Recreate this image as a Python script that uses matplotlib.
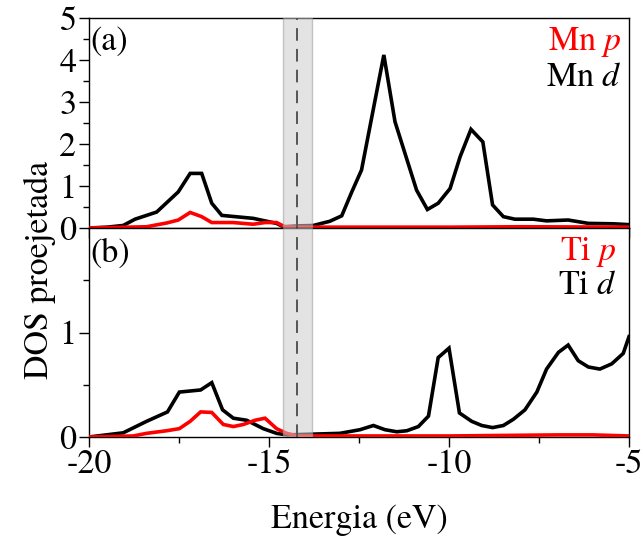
import matplotlib
matplotlib.use("Agg")
import matplotlib.pyplot as plt
from matplotlib.ticker import MultipleLocator, FixedLocator

plt.rcParams['font.family'] = ['TeX Gyre Termes', 'Liberation Serif', 'STIXGeneral', 'DejaVu Serif']
plt.rcParams['mathtext.fontset'] = 'custom'
plt.rcParams['mathtext.rm'] = 'TeX Gyre Termes'
plt.rcParams['mathtext.it'] = 'TeX Gyre Termes:italic'

# Panel (a): Mn
mn_d_e = [-20, -19.5, -19.05, -18.72, -18.12, -17.52, -17.19, -16.87, -16.59, -16.31, -15.44,
          -14.79, -14.6, -14.2, -13.77, -13.31, -12.98, -12.70, -12.43, -11.81, -11.50, -10.90,
          -10.60, -10.30, -9.97, -9.69, -9.39, -9.06, -8.79, -8.49, -8.17, -7.66, -7.29, -6.69,
          -6.13, -5.44, -5.0]
mn_d = [0.0, 0.02, 0.06, 0.21, 0.38, 0.86, 1.30, 1.30, 0.59, 0.30, 0.23,
        0.11, 0.03, 0.05, 0.06, 0.16, 0.29, 0.86, 1.38, 4.12, 2.53, 0.90,
        0.44, 0.59, 0.94, 1.70, 2.35, 2.05, 0.55, 0.27, 0.21, 0.21, 0.17, 0.19,
        0.11, 0.10, 0.08]
mn_p_e = [-20, -18.4, -17.84, -17.52, -17.19, -16.87, -16.59, -16.0, -15.44, -15.11, -14.79,
          -14.56, -14.2, -12.0, -10.0, -8.0, -5.0]
mn_p = [0.0, 0.03, 0.12, 0.19, 0.37, 0.27, 0.13, 0.13, 0.09, 0.13, 0.13,
        0.03, 0.02, 0.02, 0.02, 0.03, 0.02]

# Panel (b): Ti
ti_d_e = [-20, -19.05, -18.4, -17.82, -17.49, -16.90, -16.59, -16.29, -15.99, -15.62, -15.16,
          -14.79, -14.5, -13.03, -12.47, -12.10, -11.78, -11.45, -11.17, -10.85, -10.57, -10.30,
          -10.0, -9.71, -9.37, -9.09, -8.79, -8.49, -8.21, -7.89, -7.56, -7.29, -6.96, -6.69,
          -6.41, -6.13, -5.81, -5.48, -5.16, -5.0]
ti_d = [0.0, 0.04, 0.15, 0.24, 0.43, 0.45, 0.52, 0.26, 0.18, 0.16, 0.08,
        0.035, 0.02, 0.035, 0.07, 0.11, 0.07, 0.05, 0.06, 0.10, 0.20, 0.76,
        0.85, 0.23, 0.15, 0.11, 0.09, 0.11, 0.17, 0.26, 0.43, 0.65, 0.81, 0.88,
        0.73, 0.67, 0.65, 0.70, 0.80, 0.96]
ti_p_e = [-20, -18.77, -18.4, -17.84, -17.49, -17.19, -16.90, -16.59, -16.27, -15.99, -15.71,
          -15.39, -15.11, -14.79, -14.51, -14.2, -13.0, -10.0, -7.0, -6.0, -5.0]
ti_p = [0.0, 0.01, 0.035, 0.06, 0.08, 0.15, 0.24, 0.235, 0.12, 0.10, 0.12,
        0.16, 0.18, 0.08, 0.035, 0.01, 0.01, 0.01, 0.02, 0.02, 0.01]

fermi = -14.22
band = (-14.6, -13.8)
xticks = [-20, -15, -10, -5]
xlabels = ['-20', '-15', '-10', '-5']

FS = 24.5
W, H = 643, 543
fig = plt.figure(figsize=(W / 100, H / 100), dpi=100)
L, R = 89 / W, 629 / W
axa = fig.add_axes([L, 1 - 228 / H, R - L, 210 / H])
axb = fig.add_axes([L, 1 - 437 / H, R - L, 209 / H])

for ax, e1, d1, e2, d2 in [(axa, mn_d_e, mn_d, mn_p_e, mn_p), (axb, ti_d_e, ti_d, ti_p_e, ti_p)]:
    ax.plot(e1, d1, color='black', lw=2.6, zorder=2, solid_joinstyle='miter')
    ax.plot(e2, d2, color='#ff0000', lw=2.6, zorder=3, solid_joinstyle='miter')
    ax.axvspan(band[0], band[1], facecolor='#cccccc', edgecolor='#9a9a9a', alpha=0.55, lw=1, zorder=4)
    ax.axvline(fermi, color='#555555', lw=1.4, dashes=(6.5, 4.2), zorder=5)
    ax.set_xlim(-20, -5)
    ax.xaxis.set_major_locator(FixedLocator(xticks))
    ax.xaxis.set_minor_locator(MultipleLocator(2.5))
    ax.tick_params(axis='both', which='major', direction='out', length=7, width=1,
                   labelsize=FS, top=False, right=False, pad=2)
    ax.tick_params(axis='both', which='minor', direction='out', length=4, width=1,
                   top=False, right=False)
    for s in ax.spines.values():
        s.set_linewidth(1.0)

axa.set_ylim(0, 5)
axa.yaxis.set_major_locator(MultipleLocator(1))
axa.yaxis.set_minor_locator(MultipleLocator(0.5))
axa.set_xticklabels([])

axb.set_ylim(0, 2)
axb.yaxis.set_major_locator(FixedLocator([0, 1]))
axb.yaxis.set_minor_locator(FixedLocator([0.5, 1.5]))
axb.set_xticks(xticks)
axb.set_xticklabels(xlabels)

axa.text(0.002, 0.848, '(a)', transform=axa.transAxes, fontsize=FS, va='baseline', ha='left')
axb.text(0.002, 0.838, '(b)', transform=axb.transAxes, fontsize=FS, va='baseline', ha='left')
axa.text(0.987, 0.848, r'Mn $\mathit{p}$', transform=axa.transAxes, fontsize=FS,
         va='baseline', ha='right', color='#ff0000')
axa.text(0.987, 0.676, r'Mn $\mathit{d}$', transform=axa.transAxes, fontsize=FS,
         va='baseline', ha='right', color='black')
axb.text(0.978, 0.847, r'Ti $\mathit{p}$', transform=axb.transAxes, fontsize=FS,
         va='baseline', ha='right', color='#ff0000')
axb.text(0.978, 0.686, r'Ti $\mathit{d}$', transform=axb.transAxes, fontsize=FS,
         va='baseline', ha='right', color='black')

fig.text(40 / W, 1 - 270 / H, 'DOS proejetada', rotation=90, fontsize=FS, ha='center', va='center')
fig.text(359 / W, 1 - 520 / H, 'Energia (eV)', fontsize=FS, ha='center', va='center')

fig.savefig('out.png', dpi=100)
